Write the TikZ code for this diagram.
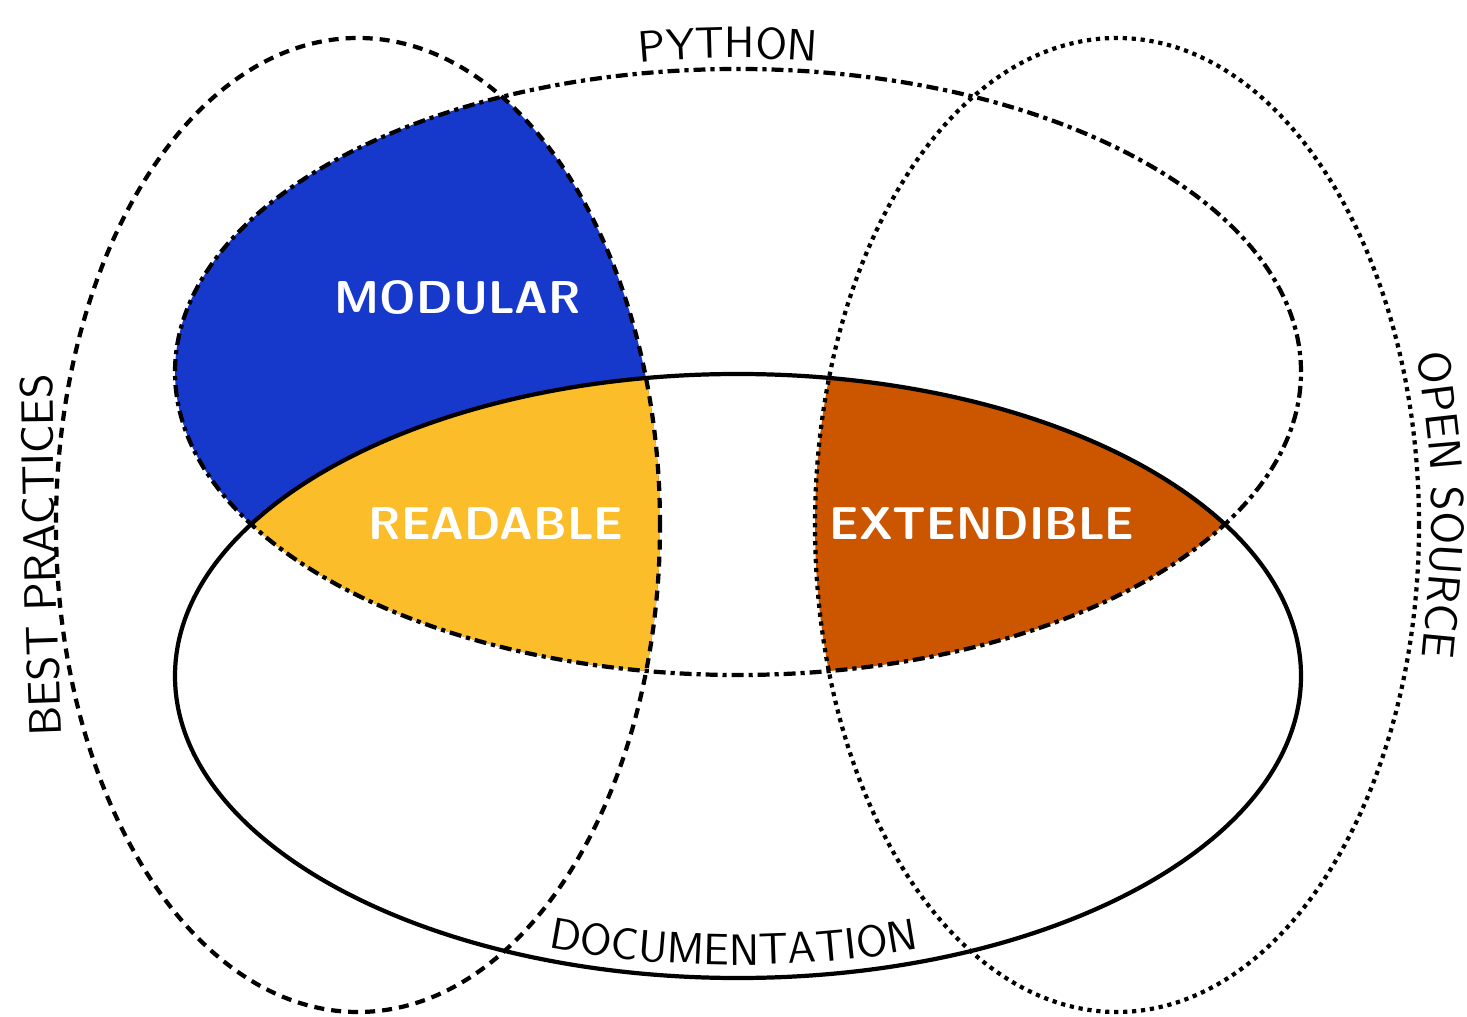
\documentclass[tikz,border=0pt]{standalone}
\usetikzlibrary{decorations.text}
\definecolor{modblue}{RGB}{22,57,204}
\definecolor{readyellow}{RGB}{251,190,42}
\definecolor{extorange}{RGB}{204,85,0}
\newcommand\setlblfont{\sffamily\fontsize{12.5}{15}\selectfont}
\newcommand\setsidefont{\sffamily\fontsize{12.9}{15}\selectfont}
\newcommand\setinfont{\sffamily\bfseries\fontsize{13.1}{15}\selectfont}
\tikzset{
  pyline/.style={line width=1.2pt, dash pattern=on 3.4pt off 1.4pt on 1.2pt off 1.4pt},
  docline/.style={line width=1.2pt},
  bpline/.style={line width=1.2pt, dash pattern=on 2.85pt off 2pt},
  osline/.style={line width=1.2pt, dash pattern=on 1.2pt off 1.35pt},
  inlabel/.style={text=white, font=\setinfont},
  curvetext/.style={decorate, decoration={text along path, text align=center, text={|\setlblfont|#1}}},
  sidetext/.style={decorate, decoration={text along path, text align=center, text={|\setsidefont|#1}}}
}
\begin{document}
\begin{tikzpicture}
\useasboundingbox (0,0) rectangle (14.67,-10.17);
\coordinate (py) at (7.38,-3.72);
\coordinate (doc) at (7.38,-6.76);
\coordinate (bp) at (3.58,-5.25);
\coordinate (os) at (11.17,-5.25);
% MODULAR and READABLE regions
\begin{scope}
  \clip (py) ellipse [x radius=5.63, y radius=3.03];
  \clip (bp) ellipse [x radius=3.02, y radius=4.87];
  \fill[modblue] (0,0) rectangle (14.67,-10.17);
  \clip (doc) ellipse [x radius=5.63, y radius=3.02];
  \fill[readyellow] (0,0) rectangle (14.67,-10.17);
\end{scope}
% EXTENDIBLE region
\begin{scope}
  \clip (py) ellipse [x radius=5.63, y radius=3.03];
  \clip (os) ellipse [x radius=3.02, y radius=4.87];
  \clip (doc) ellipse [x radius=5.63, y radius=3.02];
  \fill[extorange] (0,0) rectangle (14.67,-10.17);
\end{scope}
% outlines
\draw[docline] (doc) ellipse [x radius=5.63, y radius=3.02];
\draw[pyline] (py) ellipse [x radius=5.63, y radius=3.03];
\draw[bpline] (bp) ellipse [x radius=3.02, y radius=4.87];
\draw[osline] (os) ellipse [x radius=3.02, y radius=4.87];
% inner labels
\node[inlabel] (modular) at (4.58,-2.98) {MODULAR};
\node[inlabel] (readable) at (4.96,-5.24) {READABLE};
\node[inlabel] (extendible) at (9.82,-5.24) {EXTENDIBLE};
% curved outer labels
\coordinate (pys) at ({7.38+5.74*cos(111)},{-3.72+3.14*sin(111)});
\coordinate (docs) at ({7.38+5.50*cos(244)},{-6.76+2.89*sin(244)});
\coordinate (bps) at (0.62,-7.60);
\coordinate (bpc) at (0.55,-5.60);
\coordinate (bpe) at (0.52,-3.50);
\coordinate (oss) at (14.15,-3.35);
\coordinate (osc) at (14.37,-5.03);
\coordinate (ose) at (14.20,-6.76);
\path[curvetext=PYTHON] (pys) arc[start angle=111, end angle=71, x radius=5.74, y radius=3.14];
\path[curvetext=DOCUMENTATION] (docs) arc[start angle=244, end angle=295, x radius=5.50, y radius=2.89];
\path[sidetext=BEST PRACTICES] (bps) .. controls (bpc) .. (bpe);
\path[sidetext=OPEN SOURCE] (oss) .. controls (osc) .. (ose);
\end{tikzpicture}
\end{document}
